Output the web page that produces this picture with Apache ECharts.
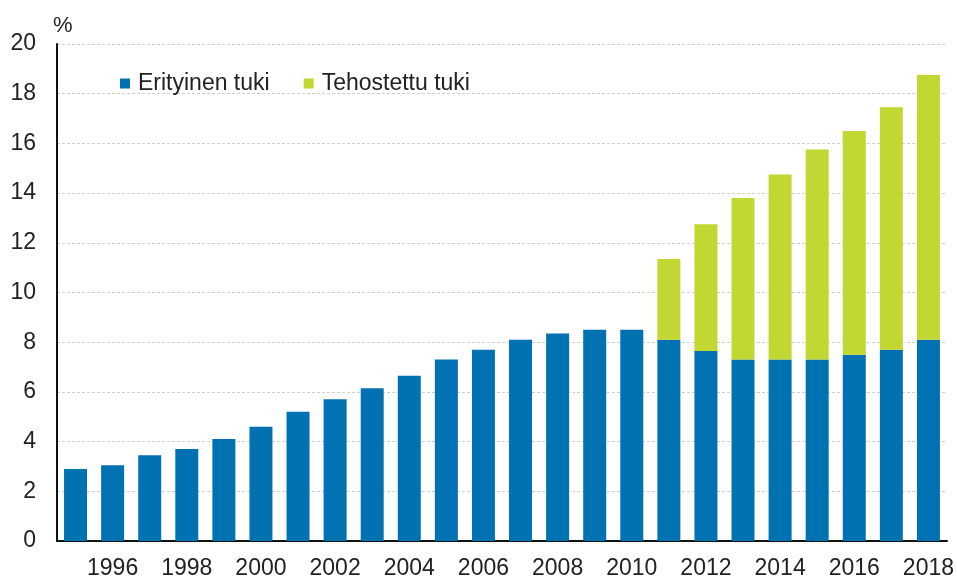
<!DOCTYPE html>
<html><head><meta charset="utf-8">
<script src="https://cdn.jsdelivr.net/npm/echarts@6/dist/echarts.min.js"></script>
<style>html,body{margin:0;padding:0;background:#fff}#c{width:957px;height:580px}</style>
</head><body><div id="c"></div>
<script>
const years = ['1995','1996','1997','1998','1999','2000','2001','2002','2003','2004','2005','2006','2007','2008','2009','2010','2011','2012','2013','2014','2015','2016','2017','2018'];
const erityinen = [2.9,3.05,3.45,3.7,4.1,4.6,5.2,5.7,6.15,6.65,7.3,7.7,8.1,8.35,8.5,8.5,8.1,7.65,7.3,7.3,7.3,7.5,7.7,8.1];
const tehostettu = [null,null,null,null,null,null,null,null,null,null,null,null,null,null,null,null,3.25,5.1,6.5,7.45,8.45,9.0,9.75,10.65];
const yTicks = [0,2,4,6,8,10,12,14,16,18,20];

const chart = echarts.init(document.getElementById('c'), null, {renderer:'canvas'});
const font = 'Liberation Sans, Arial, sans-serif';
chart.setOption({
  animation:false,
  textStyle:{fontFamily:font},
  grid:{left:57,right:9,top:44,bottom:38,containLabel:false},
  legend:{
    top:67,left:115,itemWidth:10,itemHeight:10,itemGap:34,icon:'rect',
    textStyle:{fontSize:23,color:'#222',fontFamily:font,padding:[0,0,0,3]},
    data:['Erityinen tuki','Tehostettu tuki']
  },
  graphic:[{type:'text',left:53,top:15,style:{text:'%',fontSize:22,fill:'#222',fontFamily:font}}],
  xAxis:{
    type:'category',data:years,
    axisLine:{lineStyle:{color:'#111',width:2}},
    axisTick:{show:false},
    axisLabel:{interval:function(i){return i%2===1;},fontSize:23,color:'#222',margin:16,fontFamily:font}
  },
  yAxis:{
    type:'value',min:yTicks[0],max:yTicks[yTicks.length-1],interval:2,
    axisLine:{show:true,lineStyle:{color:'#111',width:2}},
    axisTick:{show:false},
    axisLabel:{fontSize:23,color:'#222',margin:21,fontFamily:font},
    splitLine:{lineStyle:{color:'#cfcfcf',type:[3,2],width:1}}
  },
  series:[
    {name:'Erityinen tuki',type:'bar',stack:'a',data:erityinen,barWidth:'62%',
     itemStyle:{color:'#0072B1'}},
    {name:'Tehostettu tuki',type:'bar',stack:'a',data:tehostettu,barWidth:'62%',
     itemStyle:{color:'#C2D731'}}
  ]
});
</script></body></html>
